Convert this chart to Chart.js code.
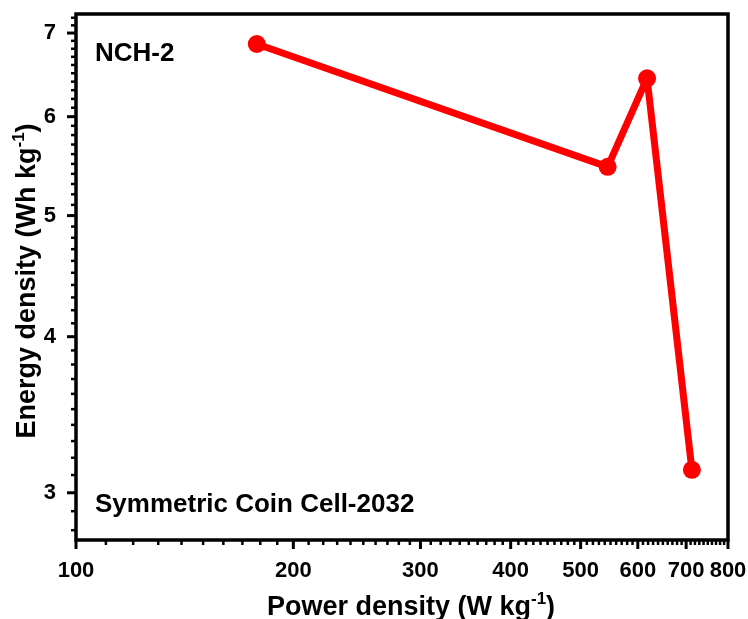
<!DOCTYPE html>
<html>
<head>
<meta charset="utf-8">
<script src="https://cdn.jsdelivr.net/npm/chart.js@4"></script>
<style>
  html, body { margin: 0; padding: 0; background: #fff; }
  #wrap { width: 748px; height: 619px; }
</style>
</head>
<body>
<div id="wrap"><canvas id="chart-ragone" width="748" height="619"></canvas></div>
<script>
const POWER_DENSITY = [178, 545, 618, 713];
const ENERGY_DENSITY = [6.86, 5.47, 6.44, 3.13];
const X_TICKS = [100, 200, 300, 400, 500, 600, 700, 800];
const Y_TICKS = [3, 4, 5, 6, 7];

const FONT = "'Liberation Sans', Arial, sans-serif";
const RED = "#ff0000";

// draw text with a "-1" superscript, centered at cx
function drawSupText(ctx, pre, sup, post, cx, y, size) {
  ctx.font = `bold ${size}px ${FONT}`;
  const w1 = ctx.measureText(pre).width;
  const w3 = ctx.measureText(post).width;
  ctx.font = `bold ${Math.round(size * 0.62)}px ${FONT}`;
  const w2 = ctx.measureText(sup).width;
  let x = cx - (w1 + w2 + w3) / 2;
  ctx.textAlign = "left";
  ctx.textBaseline = "alphabetic";
  ctx.font = `bold ${size}px ${FONT}`;
  ctx.fillText(pre, x, y);
  x += w1;
  ctx.font = `bold ${Math.round(size * 0.62)}px ${FONT}`;
  ctx.fillText(sup, x, y - size * 0.42);
  x += w2;
  ctx.font = `bold ${size}px ${FONT}`;
  ctx.fillText(post, x, y);
}

// no extra room for edge labels, the chart area is fixed by layout padding
function noPad(s) {
  s.paddingLeft = 0;
  s.paddingRight = 0;
  s.paddingTop = 0;
  s.paddingBottom = 0;
}

const framePlugin = {
  id: "frame",
  afterDraw(chart) {
    const { ctx, chartArea: a, scales } = chart;
    ctx.save();
    ctx.strokeStyle = "#000";
    ctx.fillStyle = "#000";

    // minor + major ticks, outward
    ctx.lineCap = "butt";
    for (let v = 100; v <= 800; v += 10) {
      const px = scales.x.getPixelForValue(v);
      const major = X_TICKS.includes(v);
      ctx.lineWidth = major ? 3 : 2.5;
      ctx.beginPath();
      ctx.moveTo(px, a.bottom);
      ctx.lineTo(px, a.bottom + (major ? 9 : 5));
      ctx.stroke();
    }
    for (let i = 28; i <= 72; i++) {
      const v = i / 10;
      if (v < scales.y.min || v > scales.y.max) continue;
      const py = scales.y.getPixelForValue(v);
      const major = i % 10 === 0;
      ctx.lineWidth = major ? 3 : 2.5;
      ctx.beginPath();
      ctx.moveTo(a.left, py);
      ctx.lineTo(a.left - (major ? 9 : 5), py);
      ctx.stroke();
    }

    // frame
    ctx.lineWidth = 3.5;
    ctx.strokeRect(a.left, a.top, a.right - a.left, a.bottom - a.top);

    // annotations
    ctx.font = `bold 26px ${FONT}`;
    ctx.textAlign = "left";
    ctx.textBaseline = "alphabetic";
    ctx.fillText("NCH-2", 95, 61);
    ctx.fillText("Symmetric Coin Cell-2032", 95, 512);

    // axis titles
    drawSupText(ctx, "Power density (W kg", "-1", ")", 411, 615, 27);
    ctx.translate(35, 281);
    ctx.rotate(-Math.PI / 2);
    drawSupText(ctx, "Energy density (Wh kg", "-1", ")", 0, 0, 27);
    ctx.restore();
  },
};

new Chart(document.getElementById("chart-ragone"), {
  type: "line",
  data: {
    datasets: [{
      data: POWER_DENSITY.map((x, i) => ({ x, y: ENERGY_DENSITY[i] })),
      borderColor: RED,
      backgroundColor: RED,
      borderWidth: 7,
      borderJoinStyle: "round",
      pointRadius: 9,
      pointBorderWidth: 0,
      pointBackgroundColor: RED,
      tension: 0,
      clip: false,
    }],
  },
  options: {
    responsive: false,
    animation: false,
    layout: { padding: { top: 14, right: 20, left: 0, bottom: 0 } },
    scales: {
      x: {
        type: "logarithmic",
        min: 100,
        max: 800,
        afterBuildTicks: (s) => { s.ticks = X_TICKS.map((v) => ({ value: v })); },
        afterFit: (s) => { s.height = 79; noPad(s); },
        grid: { display: true, drawOnChartArea: false, drawTicks: false },
        border: { display: false },
        ticks: {
          padding: 18,
          color: "#000",
          font: { family: FONT, size: 22, weight: "bold" },
          maxRotation: 0,
          autoSkip: false,
          callback: (v) => String(v),
        },
      },
      y: {
        type: "logarithmic",
        min: 2.75,
        max: 7.25,
        afterBuildTicks: (s) => { s.ticks = Y_TICKS.map((v) => ({ value: v })); },
        afterFit: (s) => { s.width = 76; noPad(s); },
        grid: { display: true, drawOnChartArea: false, drawTicks: false },
        border: { display: false },
        ticks: {
          padding: 20,
          color: "#000",
          font: { family: FONT, size: 22, weight: "bold" },
          autoSkip: false,
          callback: (v) => String(v),
        },
      },
    },
    plugins: {
      legend: { display: false },
      tooltip: { enabled: false },
    },
  },
  plugins: [framePlugin],
});
</script>
</body>
</html>
